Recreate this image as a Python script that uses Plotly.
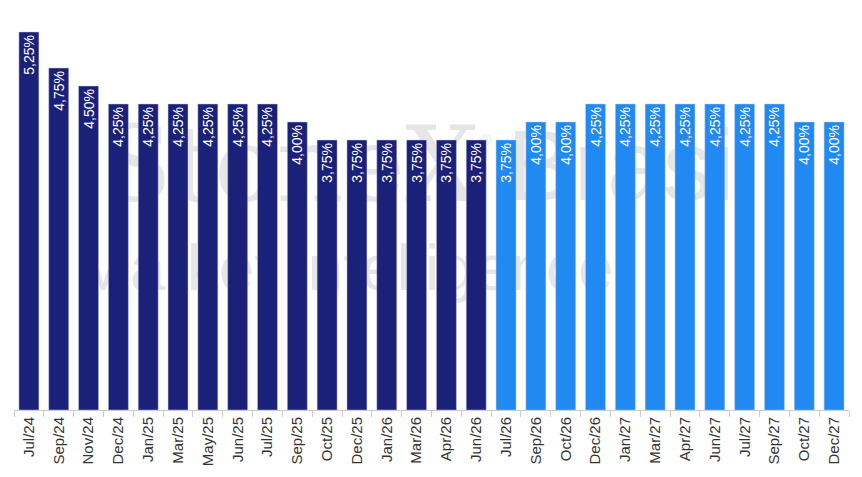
import plotly.graph_objects as go

categories = ["Jul/24", "Sep/24", "Nov/24", "Dec/24", "Jan/25", "Mar/25", "May/25", "Jun/25",
              "Jul/25", "Sep/25", "Oct/25", "Dec/25", "Jan/26", "Mar/26", "Apr/26", "Jun/26",
              "Jul/26", "Sep/26", "Oct/26", "Dec/26", "Jan/27", "Mar/27", "Apr/27", "Jun/27",
              "Jul/27", "Sep/27", "Oct/27", "Dec/27"]
rates = [5.25, 4.75, 4.50, 4.25, 4.25, 4.25, 4.25, 4.25,
         4.25, 4.00, 3.75, 3.75, 3.75, 3.75, 3.75, 3.75,
         3.75, 4.00, 4.00, 4.25, 4.25, 4.25, 4.25, 4.25,
         4.25, 4.25, 4.00, 4.00]
n_actual = 16  # first 16 bars dark navy, remainder projection (bright blue)

NAVY = "#1b2178"
BLUE = "#2089f2"
colors = [NAVY if i < n_actual else BLUE for i in range(len(categories))]
labels = [f"{v:.2f}".replace(".", ",") + "%" for v in rates]

W, H = 862, 477
ML, MR, MT, MB = 14, 13, 0, 67

fig = go.Figure()

# watermark on base axes (pixel coordinates), drawn beneath the bars
wm_text = ["StoneX", "®", "Brasil", "Market Intelligence"]
wm_x = [290, 486, 632, 345]
wm_y = [175, 141, 175, 274]
wm_font = ["DejaVu Serif", "Liberation Sans", "Liberation Sans", "Liberation Sans"]
wm_size = [104, 14, 100, 64]
fig.add_trace(go.Scatter(
    x=wm_x, y=wm_y, mode="text", text=wm_text,
    textfont=dict(family=wm_font, size=wm_size, color="#e6e6e6"),
    hoverinfo="skip", showlegend=False, xaxis="x", yaxis="y"))

fig.add_trace(go.Bar(
    x=categories, y=rates, text=labels,
    marker=dict(color=colors, line=dict(width=0.6, color="rgba(200,205,235,0.8)")),
    textposition="inside", insidetextanchor="end", textangle=-90,
    constraintext="none",
    insidetextfont=dict(family="Liberation Sans, Arial", size=14, color="white"),
    hoverinfo="skip", showlegend=False, xaxis="x2", yaxis="y2"))

plot_h = H - MT - MB
fig.update_layout(
    width=W, height=H,
    margin=dict(l=ML, r=MR, t=MT, b=MB),
    paper_bgcolor="white", plot_bgcolor="white",
    bargap=0.33,
    xaxis=dict(range=[ML, W - MR], visible=False, fixedrange=True),
    yaxis=dict(range=[plot_h, 0], visible=False, fixedrange=True),
    xaxis2=dict(overlaying="x", type="category", showline=True, linecolor="#cccccc", linewidth=1,
                ticks="outside", tickson="boundaries", ticklen=6, tickcolor="#cccccc",
                tickangle=-90, tickfont=dict(family="Liberation Sans, Arial", size=15, color="#333333"),
                showgrid=False, zeroline=False),
    yaxis2=dict(overlaying="y", range=[0, plot_h / 72.0], visible=False, showgrid=False, zeroline=False),
)

fig.write_html("out.html")
